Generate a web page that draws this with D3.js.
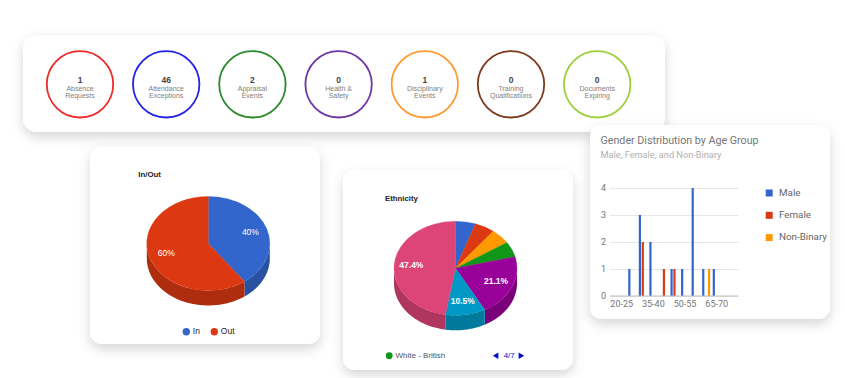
<!DOCTYPE html>
<html>
<head>
<meta charset="utf-8">
<script src="https://cdn.jsdelivr.net/npm/d3@7"></script>
<style>
  body { margin: 0; background: #fff; }
</style>
</head>
<body>
<script>
/* HR dashboard: summary rings, two 3D pies and a gender/age column chart */

// summary tiles
const summaryValues = [1, 46, 2, 0, 1, 0, 0];
const summaryLabels = [
    ["Absence", "Requests"], ["Attendance", "Exceptions"], ["Appraisal", "Events"],
    ["Health &", "Safety"], ["Disciplinary", "Events"], ["Training", "Qualifications"],
    ["Documents", "Expiring"]
];

// in / out pie
const ioLabels = ["In", "Out"];
const ioValues = [2, 3];

// ethnicity pie (only item 4 is visible in the paged legend)
const ethnicGroups = ["Asian - Indian", "Black - African", "Mixed", "White - British",
    "White - Other", "Other", "Not Stated"];
const ethnicCounts = [1, 1, 1, 1, 4, 2, 9];

// gender by age group
const ageGroups = ["20-25", "25-30", "30-35", "35-40", "40-45", "45-50",
    "50-55", "55-60", "60-65", "65-70", "70-75"];
const genderSeries = ["Male", "Female", "Non-Binary"];
const maleCounts = [0, 1, 3, 2, 0, 1, 1, 4, 1, 1, 0];
const femaleCounts = [0, 0, 2, 0, 1, 1, 0, 0, 0, 0, 0];
const nonBinaryCounts = [0, 0, 0, 0, 0, 0, 0, 0, 1, 0, 0];

const ringColors = ["#ee2b2b", "#2323e6", "#2b8a2b", "#6d35a5", "#ff9a30", "#7e3a1e", "#9ccf3a"];
const googleColors = ["#3366cc", "#dc3912", "#ff9900", "#109618", "#990099", "#0099c6", "#dd4477"];
const genderColors = ["#3366cc", "#dc3912", "#ff9900"];

const width = 845, height = 378;

let svg = d3.select("body")
    .append("svg")
    .attr("width", width)
    .attr("height", height)
    .style("font-family", "Arial, 'Liberation Sans', sans-serif");

let defs = svg.append("defs");
defs.append("filter")
    .attr("id", "shadow")
    .attr("x", "-20%").attr("y", "-20%")
    .attr("width", "140%").attr("height", "150%")
    .append("feDropShadow")
    .attr("dx", 0).attr("dy", 5)
    .attr("stdDeviation", 6)
    .attr("flood-color", "#000")
    .attr("flood-opacity", 0.16);

function card(x, y, w, h, r) {
    svg.append("rect")
        .attr("x", x).attr("y", y)
        .attr("width", w).attr("height", h)
        .attr("rx", r)
        .attr("fill", "#fff")
        .attr("filter", "url(#shadow)");
}

/* ---------- summary card ---------- */
card(23, 35, 642, 97, 14);

let ringX = d3.scalePoint()
    .domain(d3.range(summaryValues.length))
    .range([80, 597.2]);

let ring = svg.selectAll(".ring")
    .data(summaryValues)
    .join("g")
    .attr("class", "ring")
    .attr("transform", (d, i) => `translate(${ringX(i)},84.3)`);

ring.append("circle")
    .attr("r", 33.2)
    .attr("fill", "none")
    .attr("stroke", (d, i) => ringColors[i])
    .attr("stroke-width", 1.8);

ring.append("text")
    .text(d => d)
    .attr("y", -1)
    .attr("text-anchor", "middle")
    .attr("font-size", 8.5)
    .attr("font-weight", "bold")
    .attr("fill", "#444");

ring.each(function (d, i) {
    let g = d3.select(this);
    summaryLabels[i].forEach((line, j) => {
        g.append("text")
            .text(line)
            .attr("y", 6.3 + j * 7)
            .attr("text-anchor", "middle")
            .attr("font-size", 7)
            .attr("fill", "#808080");
    });
});

/* ---------- 3D pie helper ---------- */
function pie3d(cx, cy, values, colors, opts) {
    const rx = 61.5, ry = 47, depth = 15;
    let arcs = d3.pie().sort(null)(values);
    let total = d3.sum(values);
    let g = svg.append("g").attr("transform", `translate(${cx},${cy})`);

    // outer wall, only the front half is visible
    function wallPath(a0, a1) {
        const s = Math.max(a0, Math.PI / 2), e = Math.min(a1, 3 * Math.PI / 2);
        if (s >= e) return null;
        let top = d3.range(41).map(i => {
            let a = s + (e - s) * i / 40;
            return [rx * Math.sin(a), -ry * Math.cos(a)];
        });
        let bottom = top.slice().reverse().map(p => [p[0], p[1] + depth]);
        return d3.line()(top.concat(bottom)) + "Z";
    }

    g.selectAll(".wall")
        .data(arcs)
        .join("path")
        .attr("class", "wall")
        .attr("d", d => wallPath(d.startAngle, d.endAngle))
        .attr("fill", (d, i) => d3.color(colors[i]).darker(0.65));

    let top = g.append("g").attr("transform", `scale(1,${ry / rx})`);
    top.selectAll("path")
        .data(arcs)
        .join("path")
        .attr("d", d3.arc().innerRadius(0).outerRadius(rx))
        .attr("fill", (d, i) => colors[i])
        .attr("stroke", (d, i) => colors[i])
        .attr("stroke-width", 0.4);

    g.selectAll(".slice-label")
        .data(arcs.filter(d => d.value / total > 0.08))
        .join("text")
        .attr("class", "slice-label")
        .text(d => opts.format(d.value / total))
        .attr("x", d => 0.72 * rx * Math.sin((d.startAngle + d.endAngle) / 2))
        .attr("y", d => -0.72 * ry * Math.cos((d.startAngle + d.endAngle) / 2))
        .attr("text-anchor", "middle")
        .attr("dominant-baseline", "middle")
        .attr("font-size", 8.5)
        .attr("font-weight", opts.bold ? "bold" : "normal")
        .attr("fill", "#fff");
}

/* ---------- In/Out card ---------- */
card(90, 147, 230, 197, 12);

svg.append("text")
    .text("In/Out")
    .attr("x", 138.3).attr("y", 177.3)
    .attr("font-size", 7.8)
    .attr("font-weight", "bold")
    .attr("fill", "#222");

pie3d(208.3, 243.5, ioValues, googleColors, { format: d3.format(".0%"), bold: false });

let ioLegendX = [186.3, 214.3];
let ioLegend = svg.selectAll(".io-legend")
    .data(ioLabels)
    .join("g")
    .attr("class", "io-legend")
    .attr("transform", (d, i) => `translate(${ioLegendX[i]},331.7)`);

ioLegend.append("circle")
    .attr("r", 3.7)
    .attr("fill", (d, i) => googleColors[i]);

ioLegend.append("text")
    .text(d => d)
    .attr("x", 6.5)
    .attr("dominant-baseline", "middle")
    .attr("font-size", 8.5)
    .attr("fill", "#222");

/* ---------- Ethnicity card ---------- */
card(343, 170, 230, 200, 12);

svg.append("text")
    .text("Ethnicity")
    .attr("x", 385).attr("y", 201.3)
    .attr("font-size", 7.8)
    .attr("font-weight", "bold")
    .attr("fill", "#222");

pie3d(455.5, 268.3, ethnicCounts, googleColors, { format: d3.format(".1%"), bold: true });

// paged legend, showing item 4 of 7
const pageIndex = 3;
svg.append("circle")
    .attr("cx", 389.2).attr("cy", 355.7)
    .attr("r", 3.4)
    .attr("fill", googleColors[pageIndex]);

svg.append("text")
    .text(ethnicGroups[pageIndex])
    .attr("x", 395.5).attr("y", 355.9)
    .attr("dominant-baseline", "middle")
    .attr("font-size", 8)
    .attr("fill", "#555");

svg.append("path")
    .attr("d", d3.symbol(d3.symbolTriangle, 18))
    .attr("transform", "translate(496.5,355.7) rotate(-90)")
    .attr("fill", "#0011cc");

svg.append("text")
    .text(`${pageIndex + 1}/${ethnicGroups.length}`)
    .attr("x", 509.2).attr("y", 355.9)
    .attr("text-anchor", "middle")
    .attr("dominant-baseline", "middle")
    .attr("font-size", 8)
    .attr("fill", "#0011cc");

svg.append("path")
    .attr("d", d3.symbol(d3.symbolTriangle, 18))
    .attr("transform", "translate(520.5,355.7) rotate(90)")
    .attr("fill", "#0011cc");

/* ---------- Gender distribution card ---------- */
card(590, 125, 240, 194, 12);

let gender = svg.append("g").style("font-family", "Roboto, sans-serif");

gender.append("text")
    .text("Gender Distribution by Age Group")
    .attr("x", 600.5).attr("y", 144)
    .attr("font-size", 10.7)
    .attr("fill", "#757575");

gender.append("text")
    .text("Male, Female, and Non-Binary")
    .attr("x", 600.5).attr("y", 157.5)
    .attr("font-size", 9.2)
    .attr("fill", "#b0b0b0");

const plotLeft = 610, plotRight = 738.3;

let x = d3.scaleBand()
    .domain(ageGroups)
    .range([616.4, 616.4 + 10.56 * ageGroups.length]);

let y = d3.scaleLinear()
    .domain([0, 4])
    .range([296, 188]);

// gridlines + y labels
let yAxis = gender.append("g")
    .attr("transform", `translate(${plotLeft},0)`)
    .call(d3.axisLeft(y).ticks(4).tickSize(-(plotRight - plotLeft)).tickPadding(4));
yAxis.select(".domain").remove();
yAxis.selectAll(".tick line").attr("stroke", "#e6e6e6");
yAxis.selectAll(".tick text")
    .attr("fill", "#757575")
    .attr("font-size", 9)
    .attr("font-family", "Roboto, sans-serif");

// x labels, every third group
let xAxis = gender.append("g")
    .attr("transform", "translate(0,296)")
    .call(d3.axisBottom(x)
        .tickValues(ageGroups.filter((d, i) => i % 3 === 0))
        .tickSize(0)
        .tickPadding(5));
xAxis.select(".domain").remove();
xAxis.selectAll(".tick text")
    .attr("fill", "#757575")
    .attr("font-size", 9)
    .attr("font-family", "Roboto, sans-serif");

let seriesData = [maleCounts, femaleCounts, nonBinaryCounts];
let sub = d3.scalePoint()
    .domain(genderSeries)
    .range([-2.9, 2.9]);

seriesData.forEach((values, s) => {
    gender.append("g")
        .selectAll("rect")
        .data(values.map((v, i) => ({ group: ageGroups[i], value: v })).filter(d => d.value > 0))
        .join("rect")
        .attr("x", d => x(d.group) + x.bandwidth() / 2 + sub(genderSeries[s]) - 1.1)
        .attr("width", 2.2)
        .attr("y", d => y(d.value))
        .attr("height", d => y(0) - y(d.value))
        .attr("fill", genderColors[s]);
});

// baseline
gender.append("line")
    .attr("x1", plotLeft).attr("x2", plotRight)
    .attr("y1", y(0)).attr("y2", y(0))
    .attr("stroke", "#bdbdbd");

// legend
let legend = gender.selectAll(".g-legend")
    .data(genderSeries)
    .join("g")
    .attr("class", "g-legend")
    .attr("transform", (d, i) => `translate(765.7,${193 + i * 22.3})`);

legend.append("rect")
    .attr("y", -3.5)
    .attr("width", 7).attr("height", 7)
    .attr("fill", (d, i) => genderColors[i]);

legend.append("text")
    .text(d => d)
    .attr("x", 13.3)
    .attr("dominant-baseline", "middle")
    .attr("font-size", 9.8)
    .attr("fill", "#666");
</script>
</body>
</html>
